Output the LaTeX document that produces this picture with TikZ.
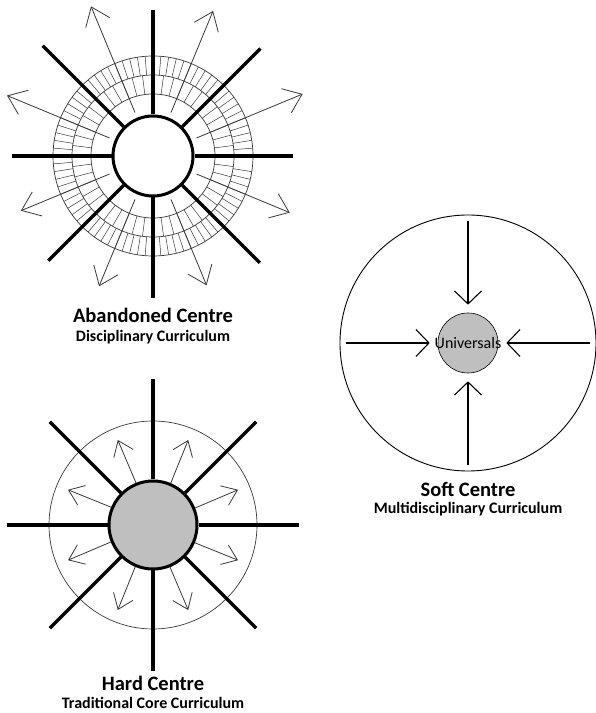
\documentclass[tikz,border=0pt]{standalone}
\usepackage{fontspec}
\setmainfont{Carlito}
\usepackage{tikz}
\usetikzlibrary{arrows.meta}
\definecolor{hubgray}{gray}{0.75}
\definecolor{inkgray}{gray}{0.22}

\begin{document}
\begin{tikzpicture}[
  x=1pt,y=1pt,
  spoke/.style={line width=3.2pt,black},
  hub/.style={circle,draw,line width=3pt,inner sep=0pt},
  ring/.style={draw=inkgray,line width=0.7pt},
  hatch/.style={draw=inkgray,line width=0.5pt},
  outarrow/.style={draw=inkgray,line width=0.8pt,-{Straight Barb[length=17pt,width=26pt]}},
  smallarrow/.style={draw=inkgray,line width=0.8pt,-{Straight Barb[length=14pt,width=21pt]}},
  inarrow/.style={line width=1.1pt,shorten <=6pt,shorten >=8pt,-{Straight Barb[length=13pt,width=27pt]}},
  title/.style={font=\bfseries\fontsize{20.5}{24}\selectfont,inner sep=0pt,anchor=base},
  subtitle/.style={font=\bfseries\fontsize{16}{19}\selectfont,inner sep=0pt,anchor=base}
]
\useasboundingbox (0,0) rectangle (596,713);

% abandoned centre
\node[hub,fill=white,minimum size=80pt] (ahub) at (153,557) {};
\foreach \r in {62,81,100} \draw[ring] (ahub.center) circle (\r);
\foreach \t in {0,4.5,...,355} \draw[hatch] ([shift={(\t:81)}]ahub.center) -- ([shift={(\t:100)}]ahub.center);
\foreach \t in {0,7.5,...,355} \draw[hatch] ([shift={(\t:62)}]ahub.center) -- ([shift={(\t:81)}]ahub.center);
\foreach \a/\l in {0/140,45/152,90/146,135/156,180/141,225/148,270/142,315/151}
  \draw[spoke] (ahub.\a) -- ([shift={(\a:\l)}]ahub.center);
\foreach \a/\l in {22.5/162,67.5/157,112.5/162,157.5/158,202.5/143,247.5/141,292.5/140,337.5/148}
  \draw[outarrow] ([shift={(\a:47)}]ahub.center) -- ([shift={(\a:\l)}]ahub.center);
\node[title] (atitle) at (153,390) {Abandoned Centre};
\node[subtitle] (asub) at ([yshift=-19pt]atitle.base) {Disciplinary Curriculum};

% hard centre
\node[hub,fill=hubgray,minimum size=88pt] (hhub) at (153,188) {};
\draw[ring] (hhub.center) circle (104);
\foreach \a in {0,45,...,315}
  \draw[spoke] (hhub.\a) -- ([shift={(\a:146)}]hhub.center);
\foreach \a in {22.5,67.5,...,337.5}
  \draw[smallarrow] (hhub.\a) -- ([shift={(\a:92)}]hhub.center);
\node[title] (htitle) at (153,23) {Hard Centre};
\node[subtitle] (hsub) at ([yshift=-18pt]htitle.base) {Traditional Core Curriculum};

% soft centre
\node[circle,draw,line width=0.9pt,minimum size=256pt,inner sep=0pt] (sring) at (468,370) {};
\node[circle,draw,fill=hubgray,line width=0.6pt,minimum size=60pt,inner sep=0pt] (shub) at (468,370) {};
\node[font=\fontsize{16}{19}\selectfont,inner sep=0pt] (suni) at (shub.center) {Universals};
\foreach \a in {0,90,180,270}
  \draw[inarrow] (sring.\a) -- (shub.\a);
\node[title] (stitle) at (468,216) {Soft Centre};
\node[subtitle] (ssub) at ([yshift=-17pt]stitle.base) {Multidisciplinary Curriculum};
\end{tikzpicture}
\end{document}
